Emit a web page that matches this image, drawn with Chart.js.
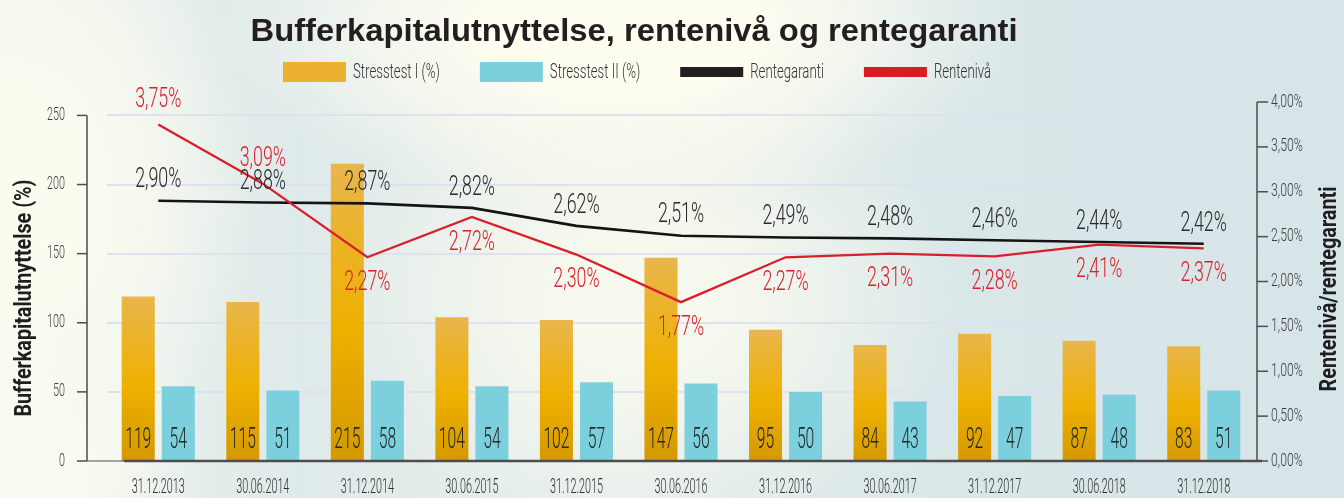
<!DOCTYPE html>
<html>
<head>
<meta charset="utf-8">
<script src="https://cdn.jsdelivr.net/npm/chart.js@4.4.1/dist/chart.umd.min.js"></script>
<style>
  html, body { margin: 0; padding: 0; }
  body {
    width: 1344px; height: 498px; overflow: hidden;
    background:
      radial-gradient(ellipse 400px 180px at 620px 30px, rgba(253,253,240,1) 35%, rgba(253,253,240,0) 100%),
      radial-gradient(ellipse 240px 330px at 20px 200px, rgba(251,252,240,1) 30%, rgba(251,252,240,0) 100%),
      radial-gradient(ellipse 320px 240px at 640px 300px, rgba(247,249,238,1) 20%, rgba(247,249,238,0) 100%),
      radial-gradient(ellipse 170px 170px at 40px 470px, rgba(250,251,240,1) 20%, rgba(250,251,240,0) 100%),
      linear-gradient(90deg, #eef3ec 0%, #dfeaea 22%, #e6eeea 45%, #dae7e9 70%, #d7e5e8 100%);
  }
  #wrap { position: relative; width: 1344px; height: 498px; }
</style>
</head>
<body>
<div id="wrap"><canvas id="bufferChart"></canvas></div>
<script>
// data
const categories = ["31.12.2013", "30.06.2014", "31.12.2014", "30.06.2015", "31.12.2015", "30.06.2016",
                    "31.12.2016", "30.06.2017", "31.12.2017", "30.06.2018", "31.12.2018"];
const stresstest1 = [119, 115, 215, 104, 102, 147, 95, 84, 92, 87, 83];
const stresstest2 = [54, 51, 58, 54, 57, 56, 50, 43, 47, 48, 51];
const rentegaranti = [2.90, 2.88, 2.87, 2.82, 2.62, 2.51, 2.49, 2.48, 2.46, 2.44, 2.42];
const renteniva = [3.75, 3.09, 2.27, 2.72, 2.30, 1.77, 2.27, 2.31, 2.28, 2.41, 2.37];
const leftTicks = [0, 50, 100, 150, 200, 250];
const rightTicks = [0, 0.5, 1, 1.5, 2, 2.5, 3, 3.5, 4];

const TITLE = "Bufferkapitalutnyttelse, rentenivå og rentegaranti";
const LEFT_TITLE = "Bufferkapitalutnyttelse (%)";
const RIGHT_TITLE = "Rentenivå/rentegaranti";

const ORANGE = "#ecb12e";
const BLUE = "#7cd0dd";
const BLACK = "#141414";
const RED = "#da1f2a";
const AXIS = "#4d4d4d";
const THIN = "Roboto, 'Liberation Sans', sans-serif";

const pct = v => v.toFixed(2).replace(".", ",") + "%";

// condensed text: draw scaled horizontally
function cText(ctx, text, x, y, font, color, sx, align, rot) {
  ctx.save();
  ctx.font = font;
  ctx.fillStyle = color;
  ctx.textAlign = align || "center";
  ctx.textBaseline = "middle";
  ctx.translate(x, y);
  if (rot) ctx.rotate(rot);
  ctx.scale(sx, 1);
  ctx.fillText(text, 0, 0);
  ctx.restore();
}

function fitText(ctx, text, x, y, font, color, width, rot) {
  ctx.save();
  ctx.font = font;
  const w = ctx.measureText(text).width;
  ctx.restore();
  cText(ctx, text, x, y, font, color, width / w, "center", rot);
}

function orangeFill(context) {
  const chart = context.chart;
  const ys = chart.scales.y;
  if (!ys || context.raw == null) return ORANGE;
  const top = ys.getPixelForValue(context.raw);
  const base = ys.getPixelForValue(0);
  if (!isFinite(top) || !isFinite(base) || base === top) return ORANGE;
  const g = chart.ctx.createLinearGradient(0, top, 0, base);
  g.addColorStop(0, "#e9b64c");
  g.addColorStop(0.55, "#eeb000");
  g.addColorStop(1, "#d49900");
  return g;
}

const decorPlugin = {
  id: "decor",
  beforeDatasetsDraw(chart) {
    const { ctx, chartArea: a, scales } = chart;
    // grid lines
    ctx.save();
    ctx.strokeStyle = "#dfe1ee";
    ctx.lineWidth = 2;
    leftTicks.forEach(t => {
      if (t === 0) return;
      const y = Math.round(scales.y.getPixelForValue(t));
      ctx.beginPath();
      ctx.moveTo(a.left + 1, y);
      ctx.lineTo(a.right, y);
      ctx.stroke();
    });
    ctx.restore();
  },
  afterDatasetsDraw(chart) {
    const { ctx, chartArea: a, scales } = chart;
    const ys = scales.y, yr = scales.y1, xs = scales.x;
    const axisX = a.left - 19;

    ctx.save();
    ctx.strokeStyle = AXIS;
    ctx.lineWidth = 1.5;
    // left axis
    ctx.beginPath();
    ctx.moveTo(axisX, ys.getPixelForValue(250));
    ctx.lineTo(axisX, a.bottom);
    ctx.stroke();
    leftTicks.forEach(t => {
      const y = ys.getPixelForValue(t);
      ctx.beginPath();
      ctx.moveTo(axisX - 10, y);
      ctx.lineTo(axisX, y);
      ctx.stroke();
      cText(ctx, String(t), axisX - 22, y, "300 18px " + THIN, "#3d3d3d", 0.6, "right");
    });
    // right axis
    ctx.beginPath();
    ctx.moveTo(a.right + 1, a.top);
    ctx.lineTo(a.right + 1, a.bottom);
    ctx.stroke();
    rightTicks.forEach(t => {
      const y = yr.getPixelForValue(t);
      ctx.beginPath();
      ctx.moveTo(a.right + 1, y);
      ctx.lineTo(a.right + 12, y);
      ctx.stroke();
      cText(ctx, pct(t), a.right + 15, y, "300 18px " + THIN, "#3d3d3d", 0.68, "left");
    });
    // baseline
    ctx.lineWidth = 1;
    ctx.beginPath();
    ctx.moveTo(axisX, a.bottom);
    ctx.lineTo(a.left + 18, a.bottom);
    ctx.stroke();
    ctx.lineWidth = 2.5;
    ctx.beginPath();
    ctx.moveTo(a.left + 18, a.bottom);
    ctx.lineTo(a.right + 6, a.bottom);
    ctx.stroke();
    ctx.restore();

    // category labels
    categories.forEach((c, i) => {
      cText(ctx, c, xs.getPixelForValue(i), a.bottom + 27, "300 20px " + THIN, "#2e2e2e", 0.54, "center");
    });

    // values inside bars
    [0, 1].forEach(di => {
      const meta = chart.getDatasetMeta(di);
      const vals = chart.data.datasets[di].data;
      meta.data.forEach((bar, i) => {
        cText(ctx, String(vals[i]), bar.x, a.bottom - 20, "300 29px " + THIN, "#262626", 0.54, "center");
      });
    });

    // line labels
    const gMeta = chart.getDatasetMeta(2);
    gMeta.data.forEach((p, i) => {
      cText(ctx, pct(rentegaranti[i]), p.x, p.y - 20, "300 27px " + THIN, "#2a2a2a", 0.66, "center");
    });
    const rMeta = chart.getDatasetMeta(3);
    rMeta.data.forEach((p, i) => {
      const above = renteniva[i] > rentegaranti[i];
      cText(ctx, pct(renteniva[i]), p.x, above ? p.y - 24 : p.y + 26, "300 27px " + THIN, RED, 0.66, "center");
    });

    // axis titles
    fitText(ctx, LEFT_TITLE, 25, 298, "bold 24px " + THIN, "#1e1e1e", 237, -Math.PI / 2);
    fitText(ctx, RIGHT_TITLE, 1330, 289, "bold 24px " + THIN, "#1e1e1e", 205, -Math.PI / 2);

    // title
    fitText(ctx, TITLE, 634, 32, "bold 32px 'Liberation Sans', Arial, sans-serif", "#231f20", 767);

    // legend
    const items = chart.data.datasets.map(ds => ({
      label: ds.label,
      color: ds.legendColor,
      line: ds.type === "line"
    }));
    let lx = 283;
    const legendFont = "300 20px " + THIN;
    const lsx = 0.66;
    items.forEach(it => {
      ctx.fillStyle = it.color;
      if (it.line) ctx.fillRect(lx, 67, 63, 10);
      else ctx.fillRect(lx, 62, 63, 20);
      ctx.save();
      ctx.font = legendFont;
      const tw = ctx.measureText(it.label).width * lsx;
      ctx.restore();
      cText(ctx, it.label, lx + 70, 73, legendFont, "#333", lsx, "left");
      lx += 70 + tw + 40;
    });
  }
};

const ctx = document.getElementById("bufferChart").getContext("2d");

new Chart(ctx, {
  type: "bar",
  data: {
    labels: categories,
    datasets: [
      {
        label: "Stresstest I (%)",
        data: stresstest1,
        yAxisID: "y",
        backgroundColor: orangeFill,
        legendColor: ORANGE,
        categoryPercentage: 0.766,
        barPercentage: 0.825,
        order: 2
      },
      {
        label: "Stresstest II (%)",
        data: stresstest2,
        yAxisID: "y",
        backgroundColor: BLUE,
        legendColor: BLUE,
        categoryPercentage: 0.766,
        barPercentage: 0.825,
        order: 2
      },
      {
        type: "line",
        label: "Rentegaranti",
        data: rentegaranti,
        yAxisID: "y1",
        borderColor: BLACK,
        legendColor: "#231f20",
        borderWidth: 2.6,
        pointRadius: 0,
        tension: 0,
        order: 1
      },
      {
        type: "line",
        label: "Rentenivå",
        data: renteniva,
        yAxisID: "y1",
        borderColor: RED,
        legendColor: "#d71c24",
        borderWidth: 2.3,
        pointRadius: 0,
        tension: 0,
        order: 0
      }
    ]
  },
  options: {
    responsive: true,
    maintainAspectRatio: false,
    animation: false,
    layout: { padding: { left: 106, right: 88, top: 102, bottom: 37 } },
    plugins: {
      legend: { display: false },
      title: { display: false },
      tooltip: { enabled: false }
    },
    scales: {
      x: { display: false },
      y: { display: false, min: 0, max: 259.7 },
      y1: { display: false, position: "right", min: 0, max: 4 }
    }
  },
  plugins: [decorPlugin]
});
</script>
</body>
</html>
